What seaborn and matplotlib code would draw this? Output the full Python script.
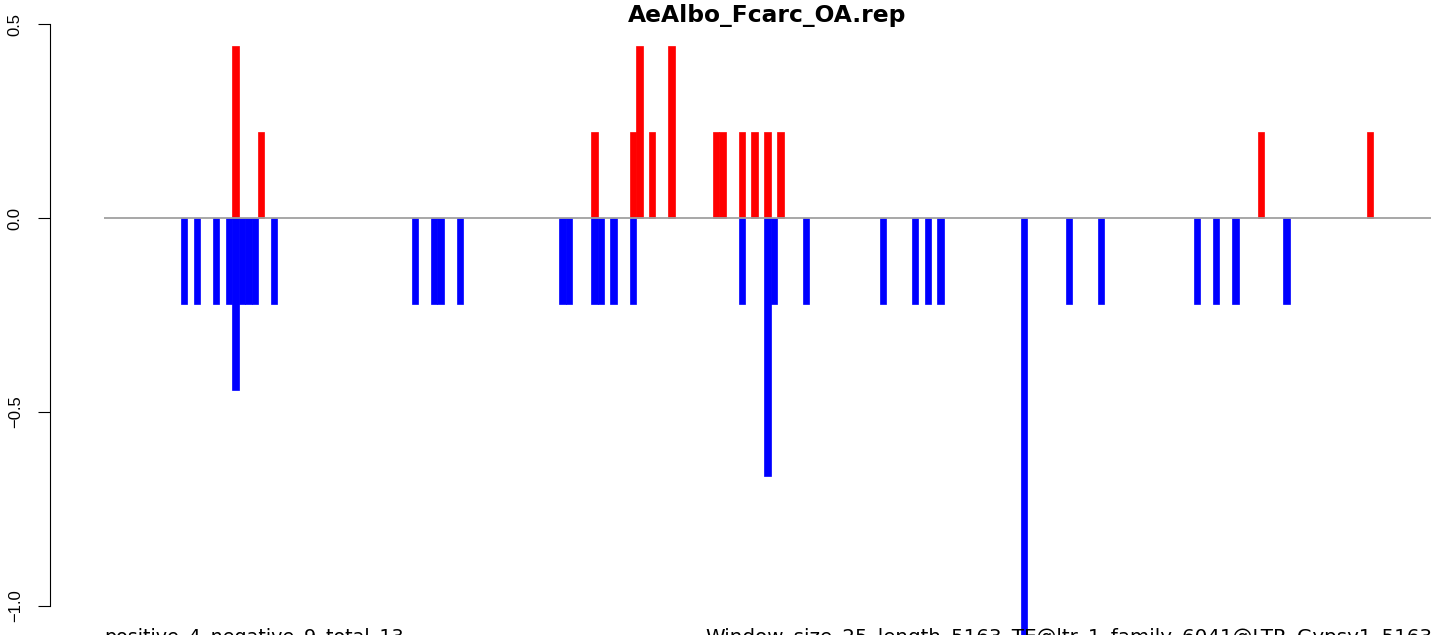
import matplotlib
matplotlib.use("Agg")
import matplotlib.pyplot as plt
import seaborn as sns
import pandas as pd

# ---- data (window index, value) ----
pos_windows = [20, 24, 76, 82, 83, 85, 88, 95, 96, 99, 101, 103, 105, 180, 197]
pos_values = [0.444, 0.222, 0.222, 0.222, 0.444, 0.222, 0.444, 0.222, 0.222,
              0.222, 0.222, 0.222, 0.222, 0.222, 0.222]

neg_windows = [12, 14, 17, 19, 20, 21, 22, 23, 26, 48, 51, 52, 55, 71, 72, 76, 77,
               79, 82, 99, 103, 104, 109, 121, 126, 128, 130, 143, 150, 155, 170,
               173, 176, 184]
neg_values = [-0.222, -0.222, -0.222, -0.222, -0.444, -0.222, -0.222, -0.222,
              -0.222, -0.222, -0.222, -0.222, -0.222, -0.222, -0.222, -0.222,
              -0.222, -0.222, -0.222, -0.222, -0.667, -0.222, -0.222, -0.222,
              -0.222, -0.222, -0.222, -1.333, -0.222, -0.222, -0.222, -0.222,
              -0.222, -0.222]

n_windows = 207
y_ticks = [-1.0, -0.5, 0.0, 0.5]
y_ticklabels = ["\u22121.0", "\u22120.5", "0.0", "0.5"]
title = "AeAlbo_Fcarc_OA.rep"
left_note = "positive_4_negative_9_total_13"
right_note = "Window_size_25_length_5163_TE@ltr_1_family_6041@LTR_Gypsy1_5163"

df = pd.DataFrame({
    "window": pos_windows + neg_windows,
    "value": pos_values + neg_values,
    "sign": ["pos"] * len(pos_windows) + ["neg"] * len(neg_windows),
})

sns.set_style("white")
plt.rcParams["font.family"] = ["Liberation Sans", "DejaVu Sans"]
plt.rcParams["text.color"] = "black"
plt.rcParams["ytick.color"] = "black"

W, H = 1444, 635
fig = plt.figure(figsize=(W / 100, H / 100), dpi=100)
ax = fig.add_axes([50 / W, 0.0, (W - 50) / W, 1.0])

sns.barplot(data=df, x="window", y="value", hue="sign",
            palette={"pos": "#FF0000", "neg": "#0000FF"},
            native_scale=True, dodge=False, width=1.0, errorbar=None,
            saturation=1, legend=False, ax=ax, zorder=2)
for p in ax.patches:
    p.set_edgecolor(p.get_facecolor())
    p.set_linewidth(0.5)

ax.hlines(0, -0.5, n_windows - 0.5, color="#A0A0A0", lw=1.3, zorder=3)

ax.set_xlim(-8.94, 208.54)
ax.set_ylim(-1.0761, 0.5626)

for s in ["top", "right", "bottom"]:
    ax.spines[s].set_visible(False)
ax.spines["left"].set_bounds(-1.0, 0.5)
ax.spines["left"].set_linewidth(0.8)
ax.spines["left"].set_color("black")
ax.set_xticks([])
ax.set_yticks(y_ticks)
ax.set_yticklabels(y_ticklabels, rotation=90, va="center", fontsize=12, color="black")
ax.tick_params(axis="y", left=True, length=8.6, width=0.8, pad=11, color="black")
ax.set_xlabel("")
ax.set_ylabel("")

fig.text(767 / W, (H - 22) / H, title, ha="center", va="baseline",
         fontsize=16.8, fontweight="bold", family="DejaVu Sans", color="black")
fig.text(104 / W, (H - 643) / H, left_note, ha="left", va="baseline",
         fontsize=13.8, family="DejaVu Sans", color="black")
fig.text(1432 / W, (H - 643) / H, right_note, ha="right", va="baseline",
         fontsize=14.3, family="DejaVu Sans", color="black")

fig.savefig("out.png", dpi=100, facecolor="white")
